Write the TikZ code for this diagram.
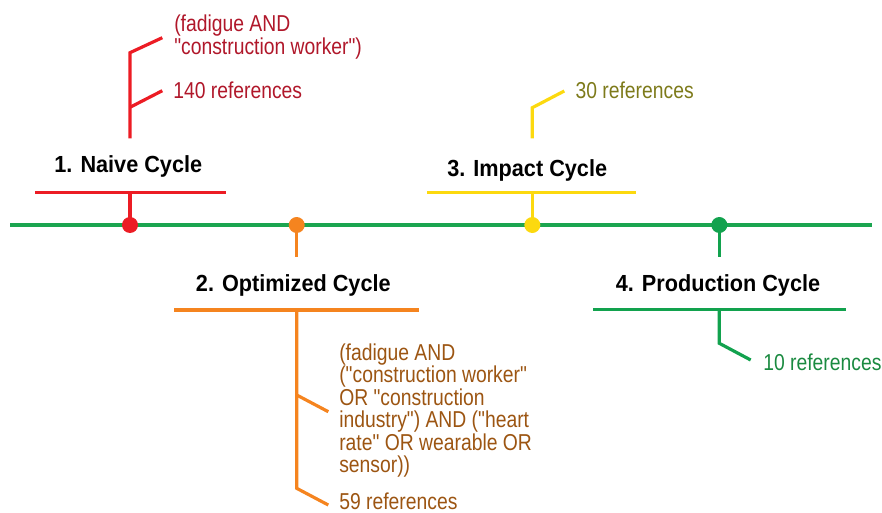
\documentclass[tikz,border=0pt]{standalone}
\usepackage{fontspec}
\newfontfamily\labfont[FakeStretch=0.84]{Liberation Sans}
\newfontfamily\titfont[FakeStretch=0.93]{Liberation Sans}
\definecolor{axisgreen}{HTML}{1BA550}
\definecolor{cred}{HTML}{EC1C24}
\definecolor{credtext}{HTML}{B0172A}
\definecolor{corange}{HTML}{F5841F}
\definecolor{corangetext}{HTML}{9C5512}
\definecolor{cyellow}{HTML}{FCD90F}
\definecolor{cyellowtext}{HTML}{7D7A1A}
\definecolor{cgreen}{HTML}{12A24E}
\definecolor{cgreentext}{HTML}{1A8A40}
\begin{document}
\begin{tikzpicture}[x=1pt,y=-1pt,line width=3.2pt,
  lab/.style={anchor=base west,inner sep=0pt,font=\labfont\fontsize{23}{22.5}\selectfont},
  tit/.style={anchor=base,inner sep=0pt,font=\titfont\bfseries\fontsize{23.3}{26}\selectfont},
  dot/.style={circle,inner sep=0pt,minimum size=16pt,draw=none}]
\useasboundingbox (0,0) rectangle (882,513);
% main axis
\coordinate (axL) at (10,225);
\coordinate (axR) at (872,225);
\draw[axisgreen] (axL) -- (axR);

% ---- 1. Naive Cycle (red)
\coordinate (rS) at (130,192.3);
\coordinate (rUL) at (35,192.3);
\coordinate (rUR) at (226,192.3);
\coordinate (rV0) at (130,138.3);
\coordinate (rV1) at (130,52.7);
\coordinate (rV2) at (130,107.3);
\coordinate (rB1) at (162.3,37.7);
\coordinate (rB2) at (162.3,90.7);
\draw[cred] (rUL) -- (rUR);
\node[dot,fill=cred] (rdot) at (130,225) {};
\draw[cred] (rdot.center) -- (rS);
\draw[cred] (rV0) -- (rV1) -- (rB1);
\draw[cred] (rV2) -- (rB2);
\node[tit] (rtitle) at (128.3,172.7) {1. Naive Cycle};
\node[lab,text=credtext] (rq) at (172.7,31.7) {\parbox[t]{300pt}{(fadigue AND\\"construction worker")}};
\node[lab,text=credtext] (rref) at (171.7,98.3) {140 references};

% ---- 2. Optimized Cycle (orange)
\coordinate (oS) at (296.7,257);
\coordinate (oUL) at (174,310);
\coordinate (oUR) at (419.3,310);
\coordinate (oV0) at (296.7,310);
\coordinate (oV1) at (296.7,488.3);
\coordinate (oV2) at (296.7,395);
\coordinate (oB1) at (328.3,505);
\coordinate (oB2) at (328.3,411.7);
\draw[corange] (oUL) -- (oUR);
\draw[corange] (oV0) -- (oV1) -- (oB1);
\draw[corange] (oV2) -- (oB2);
\node[dot,fill=corange] (odot) at (296.7,225) {};
\draw[corange] (odot.center) -- (oS);
\node[tit] (otitle) at (293.3,291.7) {2. Optimized Cycle};
\node[lab,text=corangetext] (oq) at (337.7,360) {\parbox[t]{250pt}{(fadigue AND\\("construction worker"\\OR "construction\\industry") AND ("heart\\rate" OR wearable OR\\sensor))}};
\node[lab,text=corangetext] (oref) at (337.7,509.5) {59 references};

% ---- 3. Impact Cycle (yellow)
\coordinate (yS) at (532.3,192.3);
\coordinate (yUL) at (427.3,192.3);
\coordinate (yUR) at (636,192.3);
\coordinate (yV0) at (532.3,138.3);
\coordinate (yV1) at (532.3,107.7);
\coordinate (yB1) at (564.3,91);
\draw[cyellow] (yUL) -- (yUR);
\node[dot,fill=cyellow] (ydot) at (532.3,225) {};
\draw[cyellow] (ydot.center) -- (yS);
\draw[cyellow] (yV0) -- (yV1) -- (yB1);
\node[tit] (ytitle) at (527.2,176.7) {3. Impact Cycle};
\node[lab,text=cyellowtext] (yref) at (574,98.3) {30 references};

% ---- 4. Production Cycle (green)
\coordinate (gS) at (719.3,257);
\coordinate (gUL) at (593.3,309.3);
\coordinate (gUR) at (846,309.3);
\coordinate (gV0) at (719.3,309.3);
\coordinate (gV1) at (719.3,343.3);
\coordinate (gB1) at (750.7,360);
\draw[cgreen] (gUL) -- (gUR);
\draw[cgreen] (gV0) -- (gV1) -- (gB1);
\node[dot,fill=cgreen] (gdot) at (719.3,225) {};
\draw[cgreen] (gdot.center) -- (gS);
\node[tit] (gtitle) at (718,291.7) {4. Production Cycle};
\node[lab,text=cgreentext] (gref) at (761.7,370.5) {10 references};
\end{tikzpicture}
\end{document}
